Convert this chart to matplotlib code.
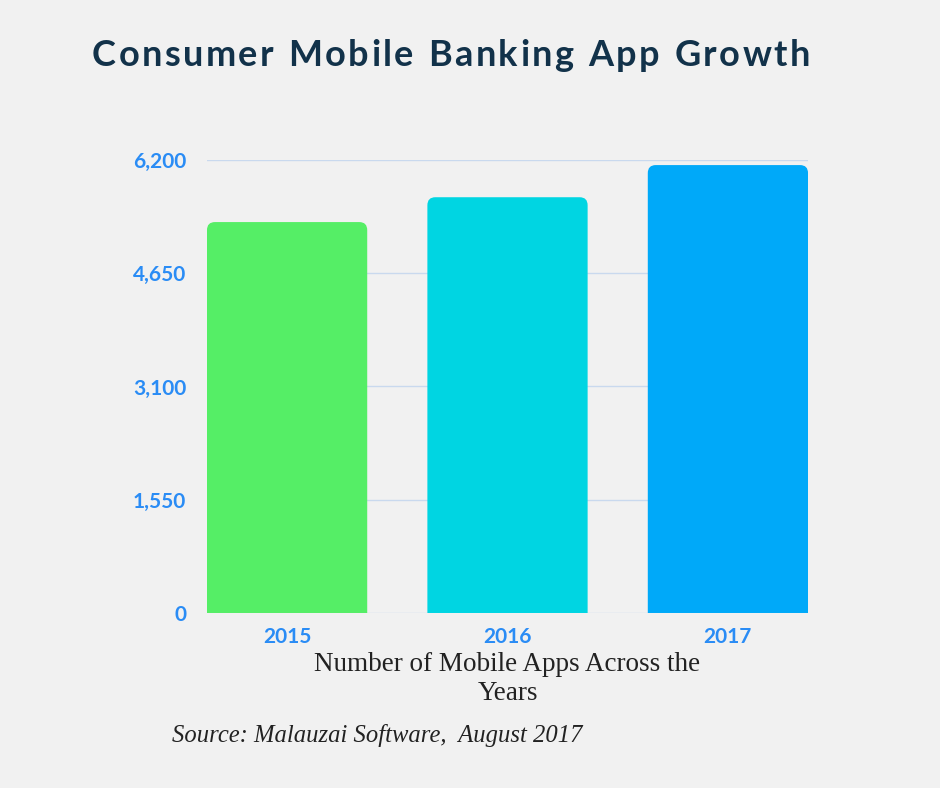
import matplotlib
matplotlib.use("Agg")
import matplotlib.pyplot as plt
from matplotlib.path import Path
from matplotlib.patches import PathPatch
from matplotlib.font_manager import FontProperties

years = ["2015", "2016", "2017"]
apps = [5350, 5690, 6130]
colors = ["#55EE66", "#00D5E2", "#00A9F9"]
yticks = [0, 1550, 3100, 4650, 6200]
ytick_labels = ["0", "1,550", "3,100", "4,650", "6,200"]
title = "Consumer Mobile Banking App Growth"
xlabel = "Number of Mobile Apps Across the\nYears"
source = "Source: Malauzai Software,  August 2017"

BG = "#F1F1F1"
TICK = "#2A8CF5"
TITLE = "#12324A"
GRID = "#C9D9EE"

fig = plt.figure(figsize=(9.4, 7.88), dpi=100, facecolor=BG)
ax = fig.add_axes([0.2202, 0.2221, 0.6394, 0.5749])
ax.set_facecolor(BG)

x = list(range(len(years)))
width = 0.727
bars = ax.bar(x, apps, width=width, color=colors, zorder=3)
ax.set_xlim(-width / 2, len(years) - 1 + width / 2)
ax.set_ylim(0, 6200)

# rounded top corners
rx = 0.036
ry = 110
for b in bars:
    x0 = b.get_x()
    x1 = x0 + b.get_width()
    h = b.get_height()
    verts = [(x0, 0), (x0, h - ry), (x0, h), (x0 + rx, h), (x1 - rx, h),
             (x1, h), (x1, h - ry), (x1, 0), (x0, 0)]
    codes = [Path.MOVETO, Path.LINETO, Path.CURVE3, Path.CURVE3, Path.LINETO,
             Path.CURVE3, Path.CURVE3, Path.LINETO, Path.CLOSEPOLY]
    patch = PathPatch(Path(verts, codes), facecolor=b.get_facecolor(),
                      edgecolor="none", zorder=3)
    b.set_visible(False)
    ax.add_patch(patch)

ax.set_yticks(yticks)
ax.set_yticklabels(ytick_labels)
ax.set_xticks(x)
ax.set_xticklabels(years)
ax.tick_params(axis="both", length=0, colors=TICK, labelsize=15)
ax.tick_params(axis="y", pad=15)
ax.tick_params(axis="x", pad=10)
for lab in ax.get_xticklabels() + ax.get_yticklabels():
    lab.set_family("Lato")
    lab.set_fontweight("bold")
ax.grid(axis="y", color=GRID, linewidth=1, zorder=0)
ax.grid(axis="x", visible=False)
for s in ax.spines.values():
    s.set_visible(False)

ax.set_xlabel(xlabel, family="Liberation Serif",
              fontsize=19.5, color="#222222", labelpad=4, linespacing=1.2)

# title with letter spacing
fp = FontProperties(family="Lato", weight="bold", size=26)
renderer = fig.canvas.get_renderer()
W = fig.get_figwidth() * fig.dpi
H = fig.get_figheight() * fig.dpi
widths = []
for ch in title:
    w, _, _ = renderer.get_text_width_height_descent(ch, fp, ismath=False)
    if ch == " ":
        w = renderer.get_text_width_height_descent("n", fp, ismath=False)[0] * 0.5
    widths.append(w)
target_left, target_right = 92, 810
track = ((target_right - target_left) - sum(widths)) / (len(title) - 1)
cx = target_left
for ch, w in zip(title, widths):
    if ch != " ":
        fig.text(cx / W, 1 - 66 / H, ch, ha="left", va="baseline",
                 fontproperties=fp, color=TITLE)
    cx += w + track

fig.text(0.183, 0.067, source, ha="left", va="center",
         family="Liberation Serif", style="italic", fontsize=17.7, color="#222222")

fig.savefig("out.png", dpi=100, facecolor=BG)
